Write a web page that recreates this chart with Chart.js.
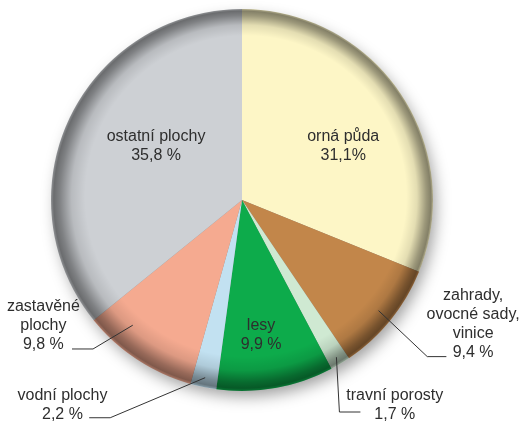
<!DOCTYPE html>
<html>
<head>
<meta charset="utf-8">
<script src="https://cdn.jsdelivr.net/npm/chart.js@4.4.0/dist/chart.umd.min.js"></script>
<style>
  html, body { margin: 0; padding: 0; background: #fff; }
  #wrap { width: 524px; height: 423px; }
</style>
</head>
<body>
<div id="wrap"><canvas id="landChart" width="524" height="423"></canvas></div>
<script>
// druhy pozemků, podíl v %
const categories = ['orná půda', 'zahrady, ovocné sady, vinice', 'travní porosty', 'lesy', 'vodní plochy', 'zastavěné plochy', 'ostatní plochy'];
const shares = [31.1, 9.4, 1.7, 9.9, 2.2, 9.8, 35.8];
const shareLabels = ['31,1%', '9,4 %', '1,7 %', '9,9 %', '2,2 %', '9,8 %', '35,8 %'];
const sliceColors = ['#fdf6c6', '#c2864a', '#cfe9d2', '#0dab4b', '#c2e1f1', '#f5aa90', '#cdd0d4'];

// how each label is laid out, in units of the pie radius from its centre
const labelLayout = [
  { lines: ['orná půda'], at: [0.53, -0.33] },
  { lines: ['zahrady,', 'ovocné sady,', 'vinice'], at: [1.21, 0.50], leader: { t: 0.5, r: 0.92, elbow: [0.97, 0.82], end: [1.07, 0.82] } },
  { lines: ['travní porosty'], at: [0.80, 1.025], leader: { t: 0.5, r: 0.96, elbow: [0.51, 1.11], end: [0.62, 1.11] } },
  { lines: ['lesy'], at: [0.10, 0.66] },
  { lines: ['vodní plochy'], at: [-0.94, 1.025], leader: { t: 0.5, r: 0.95, elbow: [-0.69, 1.14], end: [-0.80, 1.14] } },
  { lines: ['zastavěné', 'plochy'], at: [-1.04, 0.56], leader: { t: 0.72, r: 0.87, elbow: [-0.78, 0.78], end: [-0.89, 0.78] } },
  { lines: ['ostatní plochy'], at: [-0.45, -0.33] }
];

const shadowPlugin = {
  id: 'pieShadow',
  beforeDatasetsDraw(chart) {
    const arc = chart.getDatasetMeta(0).data[0];
    if (!arc) return;
    const ctx = chart.ctx;
    ctx.save();
    ctx.shadowColor = 'rgba(0,0,0,0.4)';
    ctx.shadowBlur = 16;
    ctx.shadowOffsetX = 4;
    ctx.shadowOffsetY = 7;
    ctx.fillStyle = '#888';
    ctx.beginPath();
    ctx.arc(arc.x, arc.y, arc.outerRadius - 2, 0, Math.PI * 2);
    ctx.fill();
    ctx.restore();
  }
};

const rimPlugin = {
  id: 'pieRim',
  afterDatasetsDraw(chart) {
    const arc = chart.getDatasetMeta(0).data[0];
    if (!arc) return;
    const ctx = chart.ctx;
    const r = arc.outerRadius;
    ctx.save();
    const g = ctx.createRadialGradient(arc.x + r * 0.02, arc.y - r * 0.02, r * 0.84, arc.x, arc.y, r);
    g.addColorStop(0, 'rgba(0,0,0,0)');
    g.addColorStop(0.4, 'rgba(0,0,0,0.10)');
    g.addColorStop(0.75, 'rgba(0,0,0,0.38)');
    g.addColorStop(0.92, 'rgba(0,0,0,0.48)');
    g.addColorStop(1, 'rgba(0,0,0,0.30)');
    ctx.fillStyle = g;
    ctx.beginPath();
    ctx.arc(arc.x, arc.y, r, 0, Math.PI * 2);
    ctx.fill();
    ctx.restore();
  }
};

const labelPlugin = {
  id: 'sliceLabels',
  afterDraw(chart) {
    const meta = chart.getDatasetMeta(0);
    const ctx = chart.ctx;
    ctx.save();
    ctx.font = '16px "Liberation Sans", Arial, sans-serif';
    ctx.fillStyle = '#2e2e2e';
    ctx.textAlign = 'center';
    ctx.textBaseline = 'middle';
    ctx.strokeStyle = '#333';
    ctx.lineWidth = 1;
    const lineH = 19;
    meta.data.forEach((arc, i) => {
      const lay = labelLayout[i];
      const r = arc.outerRadius;
      const cx = arc.x, cy = arc.y;
      const lines = lay.lines.concat([shareLabels[i]]);
      const tx = cx + lay.at[0] * r;
      const ty = cy + lay.at[1] * r;
      lines.forEach((s, k) => ctx.fillText(s, tx, ty + k * lineH));
      if (lay.leader) {
        const L = lay.leader;
        const a = arc.startAngle + (arc.endAngle - arc.startAngle) * L.t;
        ctx.beginPath();
        ctx.moveTo(cx + Math.cos(a) * r * L.r, cy + Math.sin(a) * r * L.r);
        ctx.lineTo(cx + L.elbow[0] * r, cy + L.elbow[1] * r);
        ctx.lineTo(cx + L.end[0] * r, cy + L.end[1] * r);
        ctx.stroke();
      }
    });
    ctx.restore();
  }
};

new Chart(document.getElementById('landChart').getContext('2d'), {
  type: 'pie',
  data: {
    labels: categories,
    datasets: [{
      data: shares,
      backgroundColor: sliceColors,
      borderWidth: 0
    }]
  },
  options: {
    responsive: false,
    animation: false,
    layout: { padding: { left: 51, right: 91, top: 9, bottom: 32 } },
    plugins: {
      legend: { display: false },
      tooltip: { enabled: false }
    }
  },
  plugins: [shadowPlugin, rimPlugin, labelPlugin]
});
</script>
</body>
</html>
